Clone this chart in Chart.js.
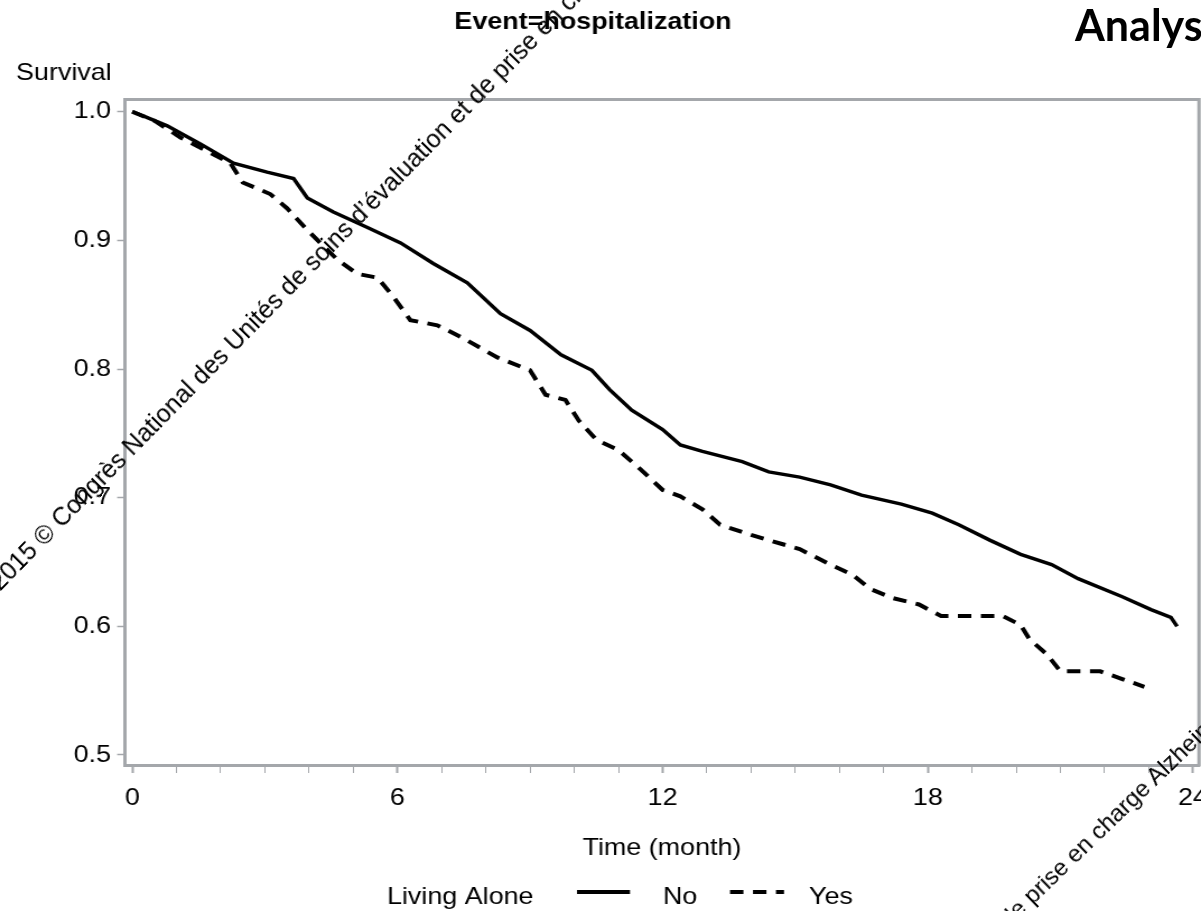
<!DOCTYPE html>
<html>
<head>
<meta charset="utf-8">
<script src="https://cdn.jsdelivr.net/npm/chart.js@4.4.0/dist/chart.umd.min.js"></script>
<style>
  html, body { margin: 0; padding: 0; background: #fff; overflow: hidden; }
  #wrap { position: relative; width: 1201px; height: 911px; overflow: hidden; background: #fff; }
  #c { position: absolute; left: 0; top: 0; width: 1201px; height: 911px; }
  .wm { position: absolute; transform-origin: 0 0; white-space: nowrap;
        font-family: "Liberation Sans", Arial, sans-serif; font-size: 25px; line-height: 25px; color: #000; }
  #analys { position: absolute; left: 1075px; top: 3px; font-family: Lato, "Liberation Sans", sans-serif;
            font-weight: bold; font-size: 43px; line-height: 43px; color: #000; white-space: nowrap; }
</style>
</head>
<body>
<div id="wrap">
  <canvas id="c" width="1072" height="911" style="width:1201px;height:911px"></canvas>
  <div id="analys">Analyse</div>
  <div class="wm" style="left:-15px;top:577px;transform:rotate(-45.5deg)">2015 © Congrès National des Unités de soins d’évaluation et de prise en charge Alzheimer</div>
  <div class="wm" style="left:995px;top:914px;font-size:24px;line-height:24px;transform:rotate(-44deg)">de prise en charge Alzheimer</div>
</div>
<script>
// Kaplan-Meier estimates (time in months)
const timeNo = [0, 0.3, 0.79, 1.54, 2.29, 3.05, 3.65, 3.96, 4.55, 5.32, 6.07, 6.81, 7.58, 8.33,
  9.0, 9.7, 10.4, 10.8, 11.3, 12.0, 12.4, 12.9, 13.8, 14.4, 15.1, 15.8, 16.5, 17.4,
  18.1, 18.7, 19.4, 20.1, 20.8, 21.4, 22.4, 23.05, 23.5, 23.64];
const survivalNo = [1.0, 0.996, 0.989, 0.975, 0.960, 0.953, 0.948, 0.933, 0.922, 0.910, 0.898, 0.882, 0.867, 0.843,
  0.830, 0.811, 0.799, 0.784, 0.768, 0.753, 0.741, 0.736, 0.728, 0.720, 0.716, 0.710, 0.702, 0.695,
  0.688, 0.679, 0.667, 0.656, 0.648, 0.637, 0.623, 0.613, 0.607, 0.600];

const timeYes = [0, 0.5, 1.09, 2.22, 2.5, 3.12, 3.5, 3.96, 4.64, 5.09, 5.55, 5.91, 6.29, 6.9, 7.43, 8.26,
  9.0, 9.35, 9.8, 10.1, 10.5, 11.0, 11.5, 12.0, 12.4, 12.9, 13.3, 14.0, 14.7, 15.1, 15.8, 16.3,
  16.7, 17.2, 17.8, 18.3, 19.7, 20.1, 20.3, 20.7, 21.0, 21.9, 22.4, 22.9];
const survivalYes = [1.0, 0.993, 0.980, 0.960, 0.945, 0.936, 0.925, 0.908, 0.885, 0.874, 0.871, 0.856, 0.838, 0.834, 0.825, 0.809,
  0.799, 0.780, 0.776, 0.760, 0.745, 0.737, 0.722, 0.706, 0.701, 0.691, 0.679, 0.671, 0.664, 0.660, 0.648, 0.640,
  0.629, 0.622, 0.617, 0.608, 0.608, 0.601, 0.590, 0.578, 0.565, 0.565, 0.559, 0.553];

const xTickLabels = [0, 6, 12, 18, 24];
const yTickValues = [0.5, 0.6, 0.7, 0.8, 0.9, 1.0];
const groupTitle = 'Living Alone';
const groupNames = ['No', 'Yes'];

// canvas is drawn 1072 wide and stretched to 1201 by css, like the original picture
const W = 1072, SX = W / 1201;
const FAM = '"Liberation Sans", Arial, Helvetica, sans-serif';
const frameColor = '#a4a7ab';
const dashYes = [12, 8.5];

const monthTicks = [];
for (let m = 0; m <= 24; m++) monthTicks.push(m);

const frameAndText = {
  id: 'frameAndText',
  afterDraw(chart) {
    const { ctx, chartArea: a } = chart;
    ctx.save();
    // top and right side of the frame
    ctx.strokeStyle = frameColor;
    ctx.lineWidth = 3;
    ctx.beginPath();
    ctx.moveTo(a.left - 1.5, a.top);
    ctx.lineTo(a.right, a.top);
    ctx.lineTo(a.right, a.bottom + 1.5);
    ctx.stroke();

    ctx.fillStyle = '#000';
    ctx.textBaseline = 'alphabetic';
    ctx.font = 'bold 24px ' + FAM;
    ctx.textAlign = 'center';
    ctx.fillText('Event=hospitalization', 593 * SX, 29);

    ctx.font = '24px ' + FAM;
    ctx.textAlign = 'left';
    ctx.fillText('Survival', 16 * SX, 80);

    ctx.textAlign = 'center';
    ctx.fillText('Time (month)', (a.left + a.right) / 2, 855);

    // legend
    ctx.textAlign = 'left';
    ctx.fillText(groupTitle, 387 * SX, 904);
    ctx.fillText(groupNames[0], 663 * SX, 904);
    ctx.fillText(groupNames[1], 809 * SX, 904);
    ctx.strokeStyle = '#000';
    ctx.lineWidth = 4;
    ctx.beginPath();
    ctx.moveTo(577 * SX, 892);
    ctx.lineTo(630 * SX, 892);
    ctx.stroke();
    ctx.setLineDash(dashYes);
    ctx.beginPath();
    ctx.moveTo(730 * SX, 892);
    ctx.lineTo(784 * SX, 892);
    ctx.stroke();
    ctx.restore();
  }
};

new Chart(document.getElementById('c'), {
  type: 'line',
  data: {
    datasets: [
      {
        label: groupNames[0],
        data: timeNo.map((t, i) => ({ x: t, y: survivalNo[i] })),
        borderColor: '#000',
        borderWidth: 3.5,
        pointRadius: 0,
        tension: 0,
        fill: false
      },
      {
        label: groupNames[1],
        data: timeYes.map((t, i) => ({ x: t, y: survivalYes[i] })),
        borderColor: '#000',
        borderWidth: 4,
        borderDash: dashYes,
        pointRadius: 0,
        tension: 0,
        fill: false
      }
    ]
  },
  options: {
    responsive: false,
    animation: false,
    events: [],
    layout: { padding: { left: 0, top: 99.5, right: W - 1199 * SX, bottom: 911 - 765 - 60 } },
    plugins: { legend: { display: false }, tooltip: { enabled: false }, title: { display: false } },
    scales: {
      x: {
        type: 'linear',
        min: -0.165,
        max: 24.136,
        afterBuildTicks: s => { s.ticks = monthTicks.map(v => ({ value: v })); },
        afterFit: s => { s.height = 60; s.paddingLeft = 0; s.paddingRight = 0; },
        ticks: {
          autoSkip: false,
          maxRotation: 0,
          padding: 10.5,
          color: '#000',
          font: { family: FAM, size: 24 },
          callback: v => xTickLabels.includes(v) ? String(v) : ''
        },
        grid: {
          drawOnChartArea: false,
          tickLength: 8,
          tickColor: frameColor,
          tickWidth: c => (c.tick && xTickLabels.includes(c.tick.value)) ? 2 : 1
        },
        border: { color: frameColor, width: 3 }
      },
      y: {
        min: 0.4922,
        max: 1.0095,
        afterBuildTicks: s => { s.ticks = yTickValues.map(v => ({ value: v })); },
        afterFit: s => { s.width = 125 * SX; s.paddingTop = 0; s.paddingBottom = 0; },
        ticks: {
          padding: 5.5,
          color: '#000',
          font: { family: FAM, size: 24 },
          callback: v => v.toFixed(1)
        },
        grid: { drawOnChartArea: false, tickLength: 7, tickColor: frameColor, tickWidth: 1.5 },
        border: { color: frameColor, width: 3 }
      }
    }
  },
  plugins: [frameAndText]
});
</script>
</body>
</html>
